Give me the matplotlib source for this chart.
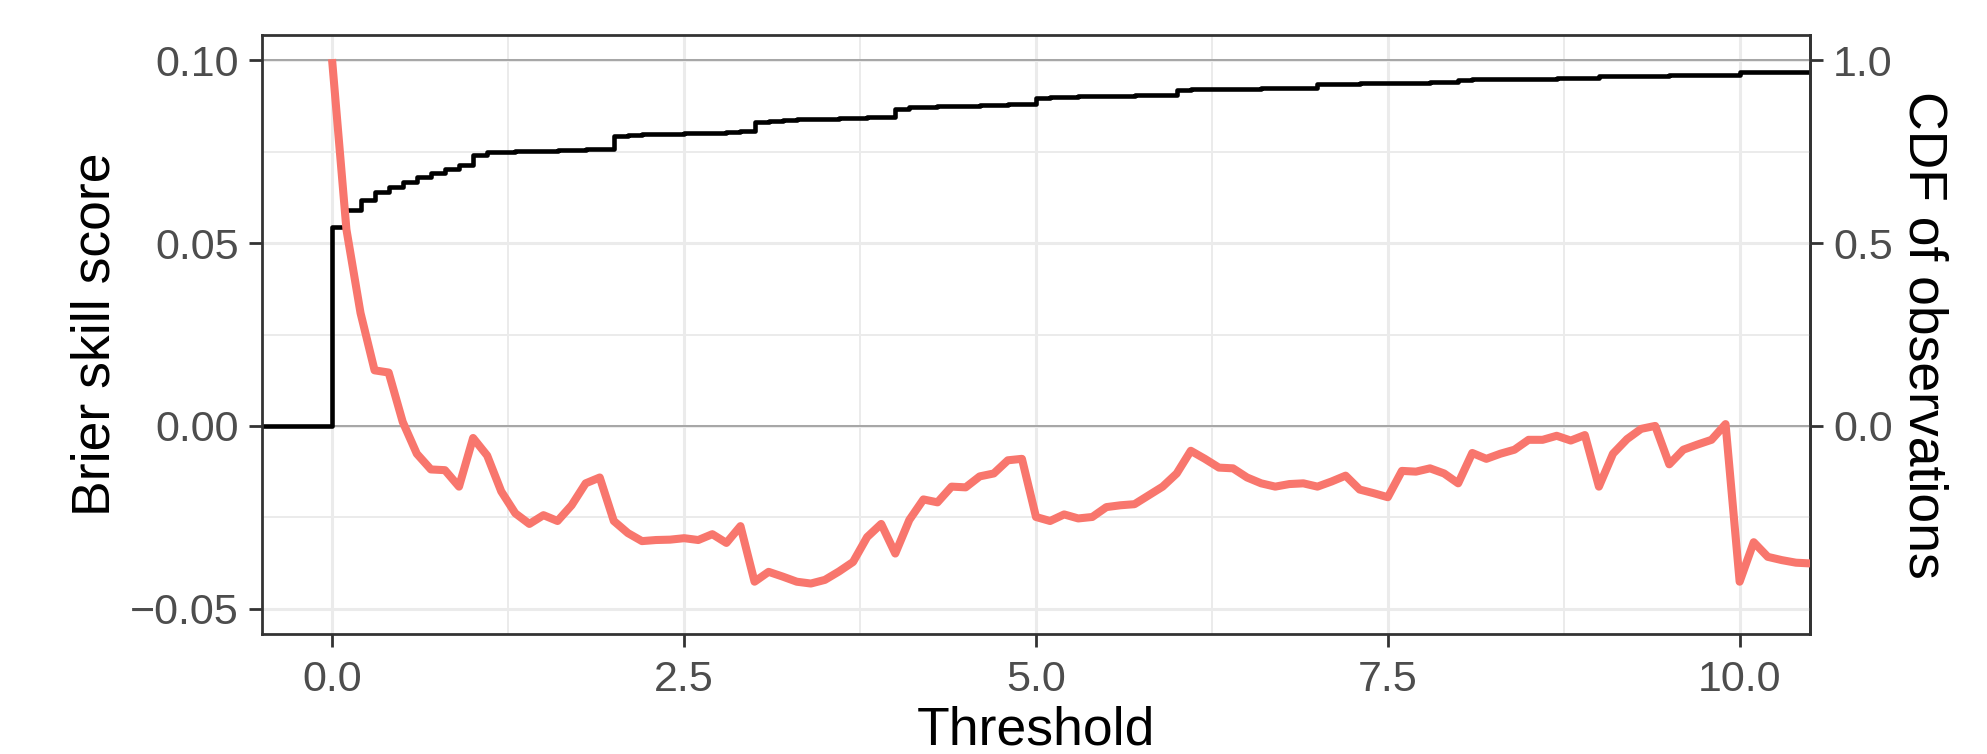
import numpy as np
import matplotlib
matplotlib.use('Agg')
import matplotlib.pyplot as plt
from matplotlib.ticker import MultipleLocator, FixedLocator, FuncFormatter

# ——— DATA ———
# thresholds every 0.1 from 0 to 10.5
thresholds = np.linspace(0.0, 10.5, 106)

# Brier skill score at each threshold
bss = [
    0.0992, 0.0537, 0.0309, 0.0152, 0.0146, 0.0011, -0.0076, -0.0119, -0.0121, -0.0166,
    -0.0033, -0.0081, -0.0179, -0.0239, -0.0268, -0.0244, -0.0260, -0.0217, -0.0157, -0.0141,
    -0.0260, -0.0293, -0.0315, -0.0312, -0.0311, -0.0307, -0.0312, -0.0296, -0.0320, -0.0274,
    -0.0426, -0.0399, -0.0412, -0.0426, -0.0431, -0.0421, -0.0398, -0.0372, -0.0304, -0.0268,
    -0.0349, -0.0257, -0.0201, -0.0209, -0.0166, -0.0168, -0.0138, -0.0130, -0.0094, -0.0090,
    -0.0249, -0.0260, -0.0242, -0.0253, -0.0249, -0.0222, -0.0217, -0.0214, -0.0190, -0.0166,
    -0.0130, -0.0068, -0.0090, -0.0114, -0.0116, -0.0141, -0.0157, -0.0166, -0.0159, -0.0157,
    -0.0166, -0.0152, -0.0136, -0.0174, -0.0184, -0.0195, -0.0123, -0.0125, -0.0116, -0.0130,
    -0.0157, -0.0074, -0.0090, -0.0076, -0.0065, -0.0038, -0.0038, -0.0027, -0.0040, -0.0025,
    -0.0166, -0.0076, -0.0036, -0.0008, 0.0000, -0.0105, -0.0065, -0.0051, -0.0038, 0.0005,
    -0.0426, -0.0318, -0.0358, -0.0367, -0.0374, -0.0376,
]

# empirical CDF of the observations at each threshold
cdf = [
    0.544, 0.591, 0.618, 0.640, 0.654, 0.667, 0.680, 0.691, 0.702, 0.713,
    0.741, 0.748, 0.750, 0.751, 0.752, 0.753, 0.754, 0.755, 0.756, 0.758,
    0.792, 0.795, 0.797, 0.798, 0.799, 0.800, 0.801, 0.802, 0.804, 0.806,
    0.832, 0.835, 0.837, 0.838, 0.839, 0.840, 0.841, 0.842, 0.844, 0.846,
    0.868, 0.871, 0.873, 0.874, 0.875, 0.876, 0.877, 0.878, 0.880, 0.881,
    0.898, 0.899, 0.900, 0.901, 0.902, 0.902, 0.903, 0.904, 0.905, 0.906,
    0.919, 0.920, 0.920, 0.921, 0.922, 0.922, 0.923, 0.923, 0.924, 0.925,
    0.935, 0.936, 0.936, 0.937, 0.938, 0.938, 0.939, 0.939, 0.940, 0.941,
    0.947, 0.948, 0.948, 0.949, 0.949, 0.950, 0.950, 0.951, 0.951, 0.952,
    0.957, 0.957, 0.958, 0.958, 0.958, 0.959, 0.959, 0.959, 0.960, 0.960,
    0.967, 0.967, 0.967, 0.967, 0.967, 0.967,
]

cdf_ticks = [0.0, 0.5, 1.0]

CDF_SCALE = 10.0   # right axis = left axis * 10
XLIM = (-0.5, 10.5)
YLIM = (-0.0569, 0.1069)

# ——— STYLE ———
plt.rcParams['font.family'] = ['Liberation Sans', 'DejaVu Sans']
RED = '#F8766D'
GRID = '#EBEBEB'
BORDER = '#333333'
TICKTXT = '#4D4D4D'
TICK_FS = 31
TITLE_FS = 38.5

fig = plt.figure(figsize=(19.87, 7.54), dpi=100)
ax = fig.add_axes([262 / 1987, 1 - 634 / 754, (1810 - 262) / 1987, (634 - 35) / 754])

ax.set_xlim(*XLIM)
ax.set_ylim(*YLIM)

# grid (theme_bw look)
ax.xaxis.set_major_locator(MultipleLocator(2.5))
ax.xaxis.set_minor_locator(FixedLocator([1.25, 3.75, 6.25, 8.75]))
ax.yaxis.set_major_locator(MultipleLocator(0.05))
ax.yaxis.set_minor_locator(FixedLocator([-0.025, 0.025, 0.075]))
ax.grid(which='major', color=GRID, linewidth=2.2, zorder=0)
ax.grid(which='minor', color=GRID, linewidth=1.4, zorder=0)
ax.set_axisbelow(True)

# reference lines at CDF 0 and 1
for lvl in (0.0, 1.0):
    ax.axhline(lvl / CDF_SCALE, color='#A6A6A6', linewidth=1.4, zorder=1)

# CDF step line, padded out to the panel edges
step_x = np.concatenate([[XLIM[0]], thresholds, [XLIM[1]]])
step_y = np.concatenate([[0.0], cdf, [cdf[-1]]]) / CDF_SCALE
ax.step(step_x, step_y, where='post', color='black', linewidth=3.3, zorder=2)

# Brier skill score
ax.plot(thresholds, bss, color=RED, linewidth=5.8, zorder=3, solid_joinstyle='round')

# secondary axis for the CDF
sec = ax.secondary_yaxis('right', functions=(lambda y: y * CDF_SCALE, lambda y: y / CDF_SCALE))
sec.set_yticks(cdf_ticks)
sec.yaxis.set_major_formatter(FuncFormatter(lambda v, p: f'{v:.1f}'))

ax.xaxis.set_major_formatter(FuncFormatter(lambda v, p: f'{v:.1f}'))
ax.yaxis.set_major_formatter(FuncFormatter(
    lambda v, p: f'{v:.2f}'.replace('-', '\u2212') if abs(v) > 1e-9 else '0.00'))

for a in (ax, sec):
    for sp in a.spines.values():
        sp.set_color(BORDER)
        sp.set_linewidth(2.0)

ax.tick_params(which='major', length=9.5, width=2.0, color=BORDER, labelsize=TICK_FS,
               labelcolor=TICKTXT)
ax.tick_params(axis='y', pad=7)
ax.tick_params(axis='x', pad=9)
ax.tick_params(which='minor', length=0)
sec.tick_params(which='major', length=9.5, width=2.0, color=BORDER, labelsize=TICK_FS,
                labelcolor=TICKTXT, pad=7)
sec.tick_params(which='minor', length=0)

ax.set_xlabel('Threshold', fontsize=TITLE_FS, color='black', labelpad=4.5)
ax.set_ylabel('Brier skill score', fontsize=TITLE_FS, color='black', labelpad=7)
sec.set_ylabel('CDF of observations', fontsize=TITLE_FS, color='black', rotation=270,
               labelpad=40)

fig.savefig('out.png', dpi=100)
